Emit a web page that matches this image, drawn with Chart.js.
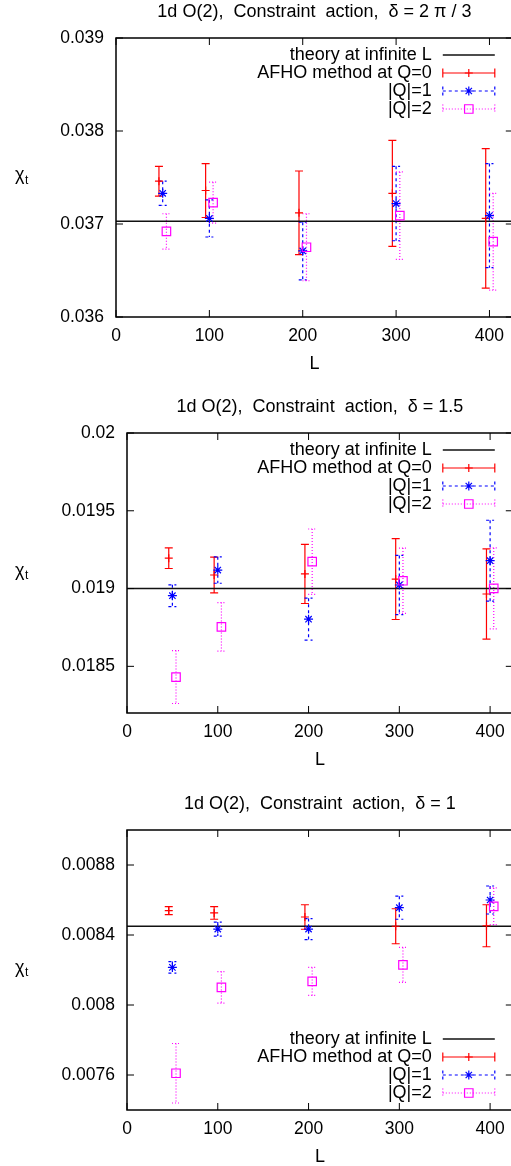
<!DOCTYPE html>
<html>
<head>
<meta charset="utf-8">
<script src="https://cdn.jsdelivr.net/npm/chart.js"></script>
<style>
  html, body { margin: 0; padding: 0; background: #fff; overflow: hidden; }
  body { width: 511px; height: 1166px; position: relative; }
  canvas { position: absolute; left: 0; }
</style>
</head>
<body>
<canvas id="c1" width="520" height="393" style="top:0px"></canvas>
<canvas id="c2" width="520" height="397" style="top:393px"></canvas>
<canvas id="c3" width="520" height="376" style="top:790px"></canvas>
<script>
// lattice sizes and the small x shift gnuplot used for each series
const sizes = [50, 100, 200, 300, 400];
const shifts = [-4, 0, 4];
const xTicks = [0, 100, 200, 300, 400];
const xMax = 425;
const theoryName = 'theory at infinite L';
const seriesNames = ['AFHO method at Q=0', '|Q|=1', '|Q|=2'];

// delta = 2 pi / 3
const titleA = '1d O(2),  Constraint  action,  δ = 2 π / 3';
const yTicksA = [0.036, 0.037, 0.038, 0.039];
const theoryA = 0.03703;
const afhoA = [0.03746, 0.03736, 0.03712, 0.03733, 0.03706];
const afhoErrA = [0.00016, 0.00029, 0.00045, 0.00057, 0.00075];
const q1A = [0.03733, 0.03706, 0.03671, 0.03722, 0.03709];
const q1ErrA = [0.00013, 0.00020, 0.00031, 0.00040, 0.00056];
const q2A = [0.03692, 0.03723, 0.03675, 0.03709, 0.03681];
const q2ErrA = [0.00019, 0.00022, 0.00036, 0.00047, 0.00052];

// delta = 1.5
const titleB = '1d O(2),  Constraint  action,  δ = 1.5';
const yTicksB = [0.0185, 0.019, 0.0195, 0.02];
const theoryB = 0.019;
const afhoB = [0.019195, 0.019087, 0.019094, 0.019061, 0.018965];
const afhoErrB = [0.000066, 0.000115, 0.00019, 0.00026, 0.00029];
const q1B = [0.018954, 0.019119, 0.018803, 0.019023, 0.019179];
const q1ErrB = [0.00007, 0.000085, 0.000135, 0.00019, 0.00026];
const q2B = [0.018431, 0.018754, 0.019173, 0.019050, 0.019001];
const q2ErrB = [0.00017, 0.000156, 0.00021, 0.00021, 0.00026];

// delta = 1
const titleC = '1d O(2),  Constraint  action,  δ = 1';
const yTicksC = [0.0076, 0.008, 0.0084, 0.0088];
const theoryC = 0.00845;
const afhoC = [0.008539, 0.008526, 0.008503, 0.008450, 0.008453];
const afhoErrC = [0.000023, 0.000036, 0.00007, 0.0001, 0.00012];
const q1C = [0.008215, 0.008434, 0.008434, 0.008556, 0.0086];
const q1ErrC = [0.000033, 0.00004, 0.00006, 0.000066, 0.00008];
const q2C = [0.007610, 0.008101, 0.008135, 0.008229, 0.008564];
const q2ErrC = [0.00017, 0.00009, 0.00008, 0.0001, 0.000105];

const FONT = "'Liberation Sans', Arial, sans-serif";
Chart.defaults.font.family = FONT;
Chart.defaults.font.size = 17.5;
Chart.defaults.color = '#000';

const styles = [
    { color: '#ff0000', dash: [], point: 'cross', radius: 4 },
    { color: '#0000ff', dash: [3, 3], point: 'star', radius: 4.5 },
    { color: '#ff00ff', dash: [1, 2], point: 'rect', radius: 6 }
];

function mark(ctx, st, x, y) {
    ctx.save();
    ctx.setLineDash([]);
    ctx.strokeStyle = st.color;
    ctx.fillStyle = 'rgba(0,0,0,0)';
    ctx.lineWidth = 1.2;
    Chart.helpers.drawPoint(ctx, { pointStyle: st.point, radius: st.radius, rotation: 0, borderWidth: 1.2 }, x, y);
    ctx.restore();
}

const gnuplotLook = {
    id: 'gnuplotLook',
    beforeDatasetsDraw(chart) {
        const ctx = chart.ctx, ys = chart.scales.y;
        chart.data.datasets.forEach((ds, i) => {
            if (!ds.errors) return;
            const meta = chart.getDatasetMeta(i);
            ctx.save();
            ctx.strokeStyle = ds.borderColor;
            ctx.lineWidth = 1.2;
            ctx.setLineDash(ds.dash);
            meta.data.forEach((pt, j) => {
                const v = ds.data[j].y, e = ds.errors[j];
                const top = ys.getPixelForValue(v + e), bot = ys.getPixelForValue(v - e);
                ctx.beginPath();
                ctx.moveTo(pt.x, top); ctx.lineTo(pt.x, bot);
                ctx.moveTo(pt.x - 4, top); ctx.lineTo(pt.x + 4, top);
                ctx.moveTo(pt.x - 4, bot); ctx.lineTo(pt.x + 4, bot);
                ctx.stroke();
            });
            ctx.restore();
        });
    },
    afterDraw(chart) {
        const ctx = chart.ctx, a = chart.chartArea;
        const xs = chart.scales.x, ys = chart.scales.y;
        const opt = chart.options.plugins.gnuplotLook;
        ctx.save();
        // frame and inward ticks
        ctx.strokeStyle = '#000';
        ctx.lineWidth = 1.5;
        ctx.strokeRect(a.left, a.top, a.right - a.left, a.bottom - a.top);
        ctx.lineWidth = 1;
        ctx.beginPath();
        xs.ticks.forEach(t => {
            const x = xs.getPixelForValue(t.value);
            ctx.moveTo(x, a.bottom); ctx.lineTo(x, a.bottom - 7);
            ctx.moveTo(x, a.top); ctx.lineTo(x, a.top + 7);
        });
        ys.ticks.forEach(t => {
            const y = ys.getPixelForValue(t.value);
            ctx.moveTo(a.left, y); ctx.lineTo(a.left + 7, y);
            ctx.moveTo(a.right, y); ctx.lineTo(a.right - 7, y);
        });
        ctx.stroke();

        // title, axis labels
        ctx.fillStyle = '#000';
        ctx.textBaseline = 'middle';
        ctx.textAlign = 'center';
        ctx.font = '18px ' + FONT;
        ctx.fillText(opt.title, (a.left + a.right) / 2, a.top - 26);
        ctx.fillText('L', (a.left + a.right) / 2, a.bottom + 47);
        const my = (a.top + a.bottom) / 2;
        ctx.textAlign = 'left';
        ctx.fillText('χ', 15, my - 2);
        ctx.font = '12px ' + FONT;
        ctx.fillText('t', 25, my + 3);

        // legend
        const rowH = 18;
        const y0 = opt.legendAt === 'top' ? a.top + 17 : a.bottom - 17 - 3 * rowH;
        const textX = a.right - 81, x1 = a.right - 70, x2 = a.right - 18, xm = (x1 + x2) / 2;
        ctx.font = '18px ' + FONT;
        ctx.textAlign = 'right';
        chart.data.datasets.forEach((ds, i) => {
            const y = y0 + i * rowH;
            ctx.fillStyle = '#000';
            ctx.fillText(ds.label, textX, y);
            ctx.strokeStyle = ds.borderColor;
            ctx.lineWidth = ds.errors ? 1.2 : 1.5;
            ctx.setLineDash(ds.dash || []);
            ctx.beginPath();
            ctx.moveTo(x1, y); ctx.lineTo(x2, y);
            if (ds.errors) {
                ctx.moveTo(x1, y - 4.5); ctx.lineTo(x1, y + 4.5);
                ctx.moveTo(x2, y - 4.5); ctx.lineTo(x2, y + 4.5);
            }
            ctx.stroke();
            ctx.setLineDash([]);
            if (ds.errors) mark(ctx, styles[i - 1], xm, y);
        });
        ctx.restore();
    }
};

function makePanel(id, p) {
    const series = [[p.afho, p.afhoErr], [p.q1, p.q1Err], [p.q2, p.q2Err]];
    const datasets = [{
        label: theoryName,
        data: [{ x: 0, y: p.theory }, { x: xMax, y: p.theory }],
        showLine: true,
        borderColor: '#111',
        borderWidth: 1.5,
        pointRadius: 0,
        order: 3
    }];
    series.forEach((s, k) => {
        const st = styles[k];
        datasets.push({
            label: seriesNames[k],
            data: sizes.map((L, j) => ({ x: L + shifts[k], y: s[0][j] })),
            errors: s[1],
            dash: st.dash,
            borderColor: st.color,
            backgroundColor: 'rgba(0,0,0,0)',
            pointStyle: st.point,
            pointRadius: st.radius,
            pointBorderWidth: 1.2,
            order: 2 - k
        });
    });

    return new Chart(document.getElementById(id), {
        type: 'scatter',
        data: { datasets: datasets },
        options: {
            responsive: false,
            animation: false,
            layout: { padding: { top: p.top, right: 7, left: 0, bottom: 0 } },
            plugins: {
                legend: { display: false },
                tooltip: { enabled: false },
                gnuplotLook: { title: p.title, legendAt: p.legendAt }
            },
            scales: {
                x: {
                    type: 'linear', min: 0, max: xMax,
                    grid: { display: false, drawTicks: false },
                    border: { display: false },
                    ticks: { padding: 9, maxRotation: 0 },
                    afterBuildTicks: s => { s.ticks = xTicks.map(v => ({ value: v })); },
                    afterFit: s => { s.height = p.bottomGap; }
                },
                y: {
                    min: p.yMin, max: p.yMax,
                    grid: { display: false, drawTicks: false },
                    border: { display: false },
                    ticks: { padding: 12, callback: v => String(v) },
                    afterBuildTicks: s => { s.ticks = p.yTicks.map(v => ({ value: v })); },
                    afterFit: s => { s.width = p.left; }
                }
            }
        },
        plugins: [gnuplotLook]
    });
}

makePanel('c1', { title: titleA, yTicks: yTicksA, yMin: 0.036, yMax: 0.039, theory: theoryA,
    afho: afhoA, afhoErr: afhoErrA, q1: q1A, q1Err: q1ErrA, q2: q2A, q2Err: q2ErrA,
    top: 38, bottomGap: 76, left: 116, legendAt: 'top' });
makePanel('c2', { title: titleB, yTicks: yTicksB, yMin: 0.0182, yMax: 0.02, theory: theoryB,
    afho: afhoB, afhoErr: afhoErrB, q1: q1B, q1Err: q1ErrB, q2: q2B, q2Err: q2ErrB,
    top: 40, bottomGap: 77, left: 127, legendAt: 'top' });
makePanel('c3', { title: titleC, yTicks: yTicksC, yMin: 0.0074, yMax: 0.009, theory: theoryC,
    afho: afhoC, afhoErr: afhoErrC, q1: q1C, q1Err: q1ErrC, q2: q2C, q2Err: q2ErrC,
    top: 40, bottomGap: 56, left: 127, legendAt: 'bottom' });
</script>
</body>
</html>
